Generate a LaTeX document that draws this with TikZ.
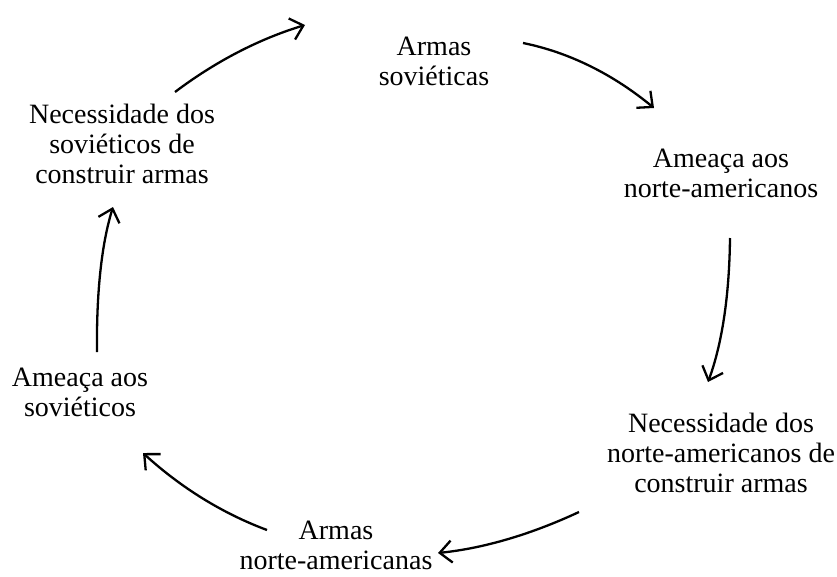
\documentclass[tikz,border=0pt]{standalone}
\usepackage{fontspec}
\setmainfont{Liberation Serif}
\usetikzlibrary{arrows.meta,calc}
\begin{document}
\begin{tikzpicture}[x=1pt,y=-1pt,
  label/.style={align=center,anchor=base,inner sep=0pt,
    font=\fontsize{28}{30}\selectfont},
  cyc/.style={line width=2.3pt,
    -{Straight Barb[length=12pt,width=22pt,line width=2.3pt]}}]
\useasboundingbox (0,0) rectangle (837,576);

% the six stages of the cycle (placed by the baseline of their last line)
\node[label] (armsov) at (434,85) {Armas\\soviéticas};
\node[label] (ameaus) at (721,197) {Ameaça aos\\norte-americanos};
\node[label] (necus)  at (721,492) {Necessidade dos\\norte-americanos de\\construir armas};
\node[label] (armus)  at (336,569) {Armas\\norte-americanas};
\node[label] (ameasov) at (80,416) {Ameaça aos\\soviéticos};
\node[label] (necsov) at (122,183) {Necessidade dos\\soviéticos de\\construir armas};

% arrow end points and the quadratic control point of each arc
\coordinate (a1) at (175,92);  \coordinate (c1) at (236,46);  \coordinate (b1) at (305,25);
\coordinate (a2) at (523,43);  \coordinate (c2) at (592,57);  \coordinate (b2) at (654,108);
\coordinate (a3) at (730,238); \coordinate (c3) at (729,325); \coordinate (b3) at (708,382);
\coordinate (a4) at (579,512); \coordinate (c4) at (506,546); \coordinate (b4) at (438,553);
\coordinate (a5) at (267,530); \coordinate (c5) at (200,505); \coordinate (b5) at (143,453);
\coordinate (a6) at (97,352);  \coordinate (c6) at (96,262);  \coordinate (b6) at (113,207);

\foreach \i in {1,...,6}
  \draw[cyc] (a\i) .. controls ($(a\i)!2/3!(c\i)$) and ($(b\i)!2/3!(c\i)$) .. (b\i);
\end{tikzpicture}
\end{document}
